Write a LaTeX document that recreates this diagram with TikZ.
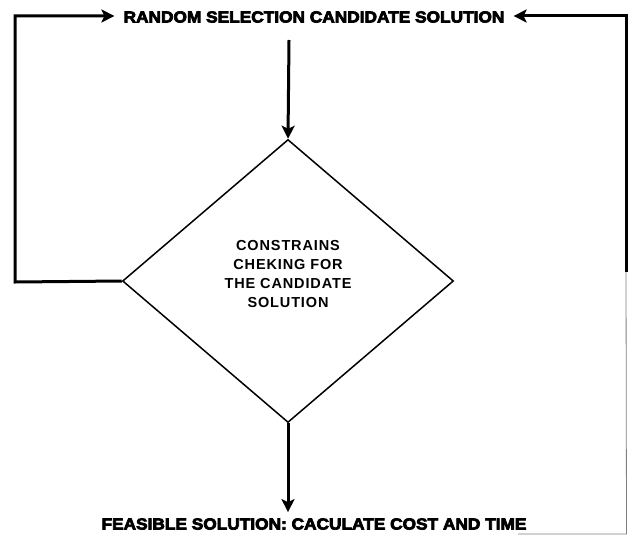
\documentclass[tikz,border=0pt]{standalone}
\usepackage{fontspec}
\setmainfont{Liberation Sans}
\newfontfamily\heavyfont[FakeStretch=1.08,FakeBold=4.5]{Liberation Sans Bold}
\newfontfamily\boxfont[LetterSpace=6]{Liberation Sans Bold}
\usetikzlibrary{arrows.meta,shapes.geometric}
\tikzset{
  flow/.style={line width=3pt, -{Stealth[length=13pt,width=13pt,inset=3pt]}},
  heading/.style={inner sep=0pt, font=\heavyfont\fontsize{16}{16}\selectfont},
}
\begin{document}
\begin{tikzpicture}[x=1pt,y=-1pt]
\useasboundingbox (0,0) rectangle (628,535);

\node [heading] (select) at (314,17) {RANDOM SELECTION CANDIDATE SOLUTION};
\node [draw, line width=1.5pt, shape=diamond, minimum width=331pt, minimum height=283pt, inner sep=0pt] (check) at (288,281) {};
\node [align=center, inner sep=0pt, font=\boxfont\fontsize{14.5}{19}\selectfont] (checktext) at (288,274) {CONSTRAINS\\CHEKING FOR\\THE CANDIDATE\\SOLUTION};
\node [heading] (feasible) at (314,524) {FEASIBLE SOLUTION: CACULATE COST AND TIME};

\coordinate (down) at (289,40);
\coordinate (leftcorner) at (15,282);
\coordinate (topleft) at (15,16);
\coordinate (topright) at (626,16);
\coordinate (rightend) at (626,272);

\draw [flow] (down) -- (check.north);
\draw [flow] (check.south) -- ([yshift=6pt]check.south |- feasible.north);
\draw [flow] (check.west) -- (leftcorner) -- (topleft) -- ([xshift=-9pt]select.west |- topleft);
\draw [flow] (rightend) -- (topright) -- ([xshift=9pt]select.east |- topright);

\draw [gray, line width=0.8pt] (rightend) -- (626.5,534) -- (518,534);
\end{tikzpicture}
\end{document}
